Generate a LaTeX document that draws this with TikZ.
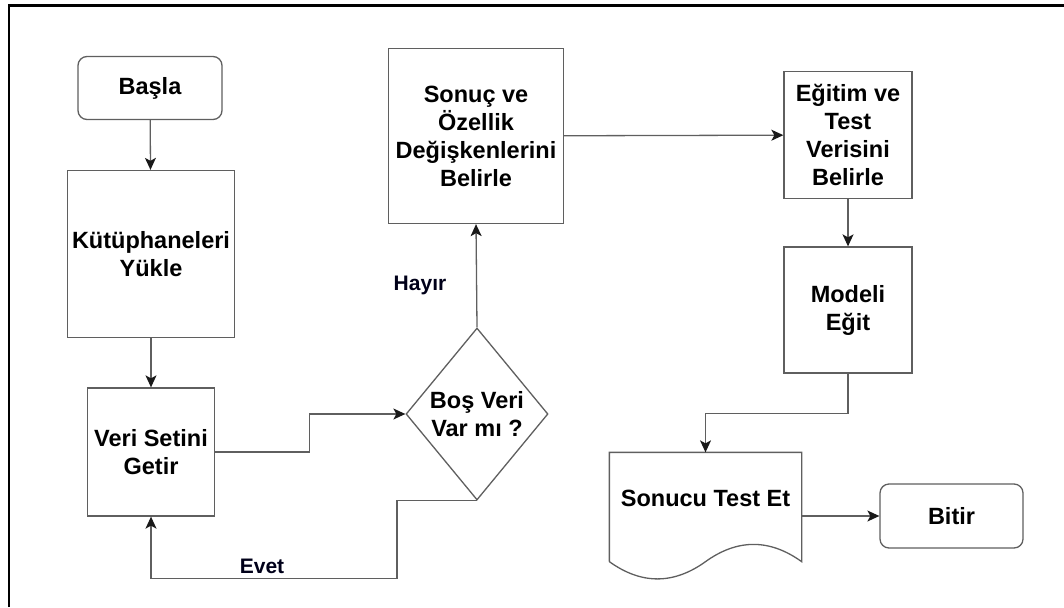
\documentclass[tikz,border=0pt]{standalone}
\usepackage{fontspec}
\setmainfont{Liberation Sans}
\usetikzlibrary{arrows.meta,calc,shapes.geometric}
\definecolor{boxgray}{RGB}{95,95,95}
\tikzset{
	box/.style={draw=boxgray, line width=1.3pt, fill=white, align=center, inner sep=0pt, font=\bfseries\fontsize{23.5}{28}\selectfont},
	termbox/.style={box, rounded corners=9pt, minimum width=144, minimum height=63},
	decbox/.style={box, shape=diamond, aspect=0.83, minimum width=142, minimum height=172},
	docbox/.style={box, draw=none, fill=none, minimum width=191, minimum height=108, text height=17pt, text depth=18pt},
	conn/.style={draw=boxgray, line width=1.3pt, -{Stealth[length=12pt,width=11pt,inset=3pt,color=black!90]}},
	lbl/.style={font=\bfseries\fontsize{21}{25}\selectfont, text=black!90!blue},
	frame/.style={line width=2.2pt, black}
}

\begin{document}
\begin{tikzpicture}[x=1pt,y=-1pt]
			%%%%% START %%%%%
			\useasboundingbox (0,0) rectangle (1064,607);
			\draw[frame] (9,607) -- (9,5.5) -- (1064,5.5);
			
			\node[termbox] (basla) at (150,88) {Başla};
			\node[box, minimum width=167, minimum height=167] (kutup) at (151,254) {Kütüphaneleri\\Yükle};
			\node[box, minimum width=127, minimum height=128] (veri) at (151,452) {Veri Setini\\Getir};
			\node[decbox] (bos) at (477,414) {Boş Veri\\Var mı ?};
			\node[box, minimum width=175, minimum height=175] (sonuc) at (476,136) {Sonuç ve\\Özellik\\Değişkenlerini\\Belirle};
			\node[box, minimum width=128, minimum height=127] (egitim) at (848,135) {Eğitim ve\\Test\\Verisini\\Belirle};
			\node[box, minimum width=128, minimum height=126] (modeli) at (848,310) {Modeli\\Eğit};
			\node[docbox] (test) at (705.5,507) {Sonucu Test Et};
			\node[termbox, minimum width=143, minimum height=64] (bitir) at (951.5,516) {Bitir};
			
			% document outline with wavy bottom
			\draw[draw=boxgray, line width=1.3pt] (test.south west) -- (test.north west) -- (test.north east) -- (test.south east)
				.. controls ($(test.south east)+(-32,-23)$) and ($(test.south)+(32,-23)$) .. (test.south)
				.. controls ($(test.south)+(-32,23)$) and ($(test.south west)+(32,23)$) .. (test.south west);
			
			\draw[conn] (basla) -- (kutup);
			\draw[conn] (kutup) -- (veri);
			\draw[conn] (veri.east) -- ++(94,0) |- (bos.west);
			\draw[conn] (bos.north) -- (sonuc.south);
			\draw[conn] (bos.south) -- ++(-80,0) -- ++(0,78) -| (veri.south);
			\draw[conn] (sonuc) -- (egitim);
			\draw[conn] (egitim) -- (modeli);
			\draw[conn] (modeli.south) -- ++(0,40) -| (test.north);
			\draw[conn] (test.east |- bitir.west) -- (bitir.west);
			
			\node[lbl] (hayir) at (420,285) {Hayır};
			\node[lbl] (evet) at (262,566) {Evet};
			%%%%% END %%%%%
\end{tikzpicture}
\end{document}
